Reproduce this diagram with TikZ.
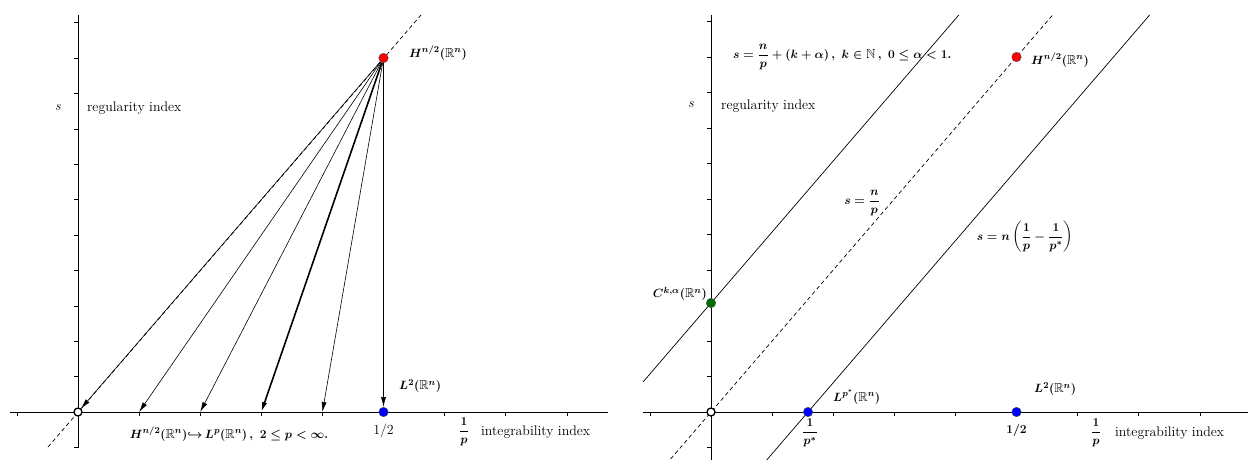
\documentclass[tikz,border=0pt]{standalone}
\usepackage{amsmath,amssymb}
\usetikzlibrary{arrows.meta}
\begin{document}
\boldmath
\begin{tikzpicture}[x=1pt,y=-1pt]
\tikzset{
  ax/.style={line width=0.7pt},
  tk/.style={line width=0.6pt},
  ln/.style={line width=0.7pt},
  dsh/.style={line width=0.7pt, dash pattern=on 4pt off 3pt},
  lbl/.style={font=\fontsize{13}{15}\selectfont, inner sep=1pt},
  txt/.style={font=\fontsize{13.9}{16}\selectfont, inner sep=1pt},
  dot/.style={circle, draw=black!70, line width=0.4pt, minimum size=9.5pt, inner sep=0pt},
  odot/.style={circle, draw=black, fill=white, line width=1.3pt, minimum size=8pt, inner sep=0pt},
  emb/.style={line width=0.6pt, -{Latex[length=10pt,width=5pt]}},
}
\definecolor{dgreen}{RGB}{0,110,0}
\useasboundingbox (0,0) rectangle (1260,464);

% ===== Left panel =====
\draw[ax] (10,412) -- (608,412);
\draw[ax] (78,15) -- (78,448);
\foreach \i in {-1,...,8} \draw[tk] ({78+61.1*\i},412) -- ({78+61.1*\i},416);
\foreach \j in {-1,1,2,...,11} \draw[tk] (74,{412-35.4*\j}) -- (78,{412-35.4*\j});

\coordinate (dL1) at (48,447);
\coordinate (dL2) at (421,15);
\draw[dsh] (dL1) -- (dL2);

\node[odot] (O) at (78,412) {};
\node[dot, fill=red] (H) at (383.5,58) {};
\node[dot, fill=blue] (L2) at (383.5,412) {};

\coordinate (t1) at (139.1,412);
\coordinate (t2) at (200.2,412);
\coordinate (t3) at (261.3,412);
\coordinate (t4) at (322.4,412);

\draw[emb] (H) -- (O);
\draw[emb] (H) -- (t1);
\draw[emb] (H) -- (t2);
\draw[emb, line width=1.6pt] (H) -- (t3);
\draw[emb] (H) -- (t4);
\draw[emb] (H) -- (L2);

\node[txt] (sL) at (58,108) {\textit{s}};
\node[txt, anchor=west] (regL) at (86,108) {regularity index};
\node[lbl, anchor=west] (HlabL) at (408,53) {$H^{n/2}(\mathbb{R}^n)$};
\node[lbl, anchor=west] (L2lab) at (398,386) {$L^{2}(\mathbb{R}^n)$};
\node[txt] (halfL) at (383.5,431) {1/2};
\node[lbl] (embL) at (229,434) {$H^{n/2}(\mathbb{R}^n){\hookrightarrow}\,L^p(\mathbb{R}^n)\,,\ 2\le p<\infty.$};
\node[lbl] (pL) at (464,432) {$\dfrac{1}{p}$};
\node[txt, anchor=west] (intL) at (480,432) {integrability index};

% ===== Right panel =====
\draw[ax] (643,412) -- (1248,412);
\draw[ax] (711,15) -- (711,460);
\foreach \i in {-1,...,8} \draw[tk] ({711+61.1*\i},412) -- ({711+61.1*\i},416);
\foreach \j in {-1,1,2,...,11} \draw[tk] (707,{412-35.5*\j}) -- (711,{412-35.5*\j});

\coordinate (dR1) at (670.6,459);
\coordinate (dR2) at (1052.6,15);
\draw[dsh] (dR1) -- (dR2);

\coordinate (cA) at (643,382);
\coordinate (cB) at (958.8,15);
\draw[ln] (cA) -- (cB);

\coordinate (pA) at (766.7,460);
\coordinate (pB) at (1149.6,15);
\draw[ln] (pA) -- (pB);

\node[odot] (O2) at (711,412) {};
\node[dot, fill=red] (H2) at (1016.5,57) {};
\node[dot, fill=blue] (Lps) at (808,412) {};
\node[dot, fill=blue] (L22) at (1016.5,412) {};
\node[dot, fill=dgreen] (C) at (711,303) {};

\node[lbl, anchor=west] (form) at (732,57) {$s=\dfrac{n}{p}+(k+\alpha)\,,\ k\in\mathbb{N}\,,\ 0\le\alpha<1.$};
\node[lbl, anchor=west] (HlabR) at (1030,60) {$H^{n/2}(\mathbb{R}^n)$};
\node[txt] (sR) at (691,105) {\textit{s}};
\node[txt, anchor=west] (regR) at (720,106) {regularity index};
\node[lbl] (snp) at (862,203) {$s=\dfrac{n}{p}$};
\node[lbl] (snpp) at (1025,237) {$s=n\left(\dfrac{1}{p}-\dfrac{1}{p^*}\right)$};
\node[lbl, anchor=east] (Clab) at (708,294) {$C^{k,\alpha}(\mathbb{R}^n)$};
\node[lbl, anchor=west] (Lpslab) at (832,397) {$L^{p^*}(\mathbb{R}^n)$};
\node[lbl, anchor=west] (L2labR) at (1033,389) {$L^{2}(\mathbb{R}^n)$};
\node[lbl] (ps) at (810,433) {$\dfrac{1}{p^*}$};
\node[lbl] (halfR) at (1016.5,430) {$1/2$};
\node[lbl] (pR) at (1096,433) {$\dfrac{1}{p}$};
\node[txt, anchor=west] (intR) at (1114,433) {integrability index};
\end{tikzpicture}
\end{document}
